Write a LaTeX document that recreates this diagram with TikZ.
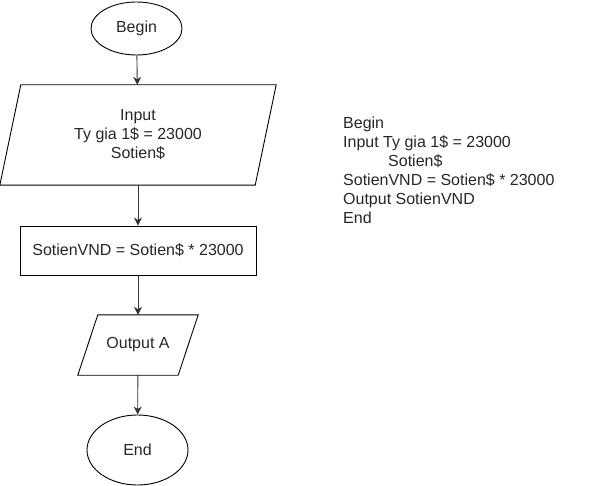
\documentclass[tikz,border=0pt]{standalone}
\usepackage{fontspec}
\setmainfont{Liberation Sans}
\usetikzlibrary{shapes.geometric,arrows.meta}
\begin{document}
\begin{tikzpicture}[x=1pt,y=-1pt,
  every node/.style={font=\fontsize{16}{19}\selectfont, text=black!85},
  term/.style={ellipse, draw, line width=0.9pt, inner sep=0pt},
  proc/.style={rectangle, draw, line width=0.9pt, inner sep=0pt},
  iobox/.style={rectangle, inner sep=0pt, align=center},
  para/.style={line width=0.9pt},
  flow/.style={draw=black!80, line width=0.9pt, -{Stealth[length=8pt,width=8pt,inset=2.5pt]}}
]
\useasboundingbox (0,0) rectangle (612,486);
\node[term, minimum width=91pt, minimum height=53pt] (begin) at (136.5,28.5) {Begin};
\node[iobox, minimum width=255pt, minimum height=100pt] (input) at (138,135) {Input\\Ty gia 1\$ = 23000\\Sotien\$};
\draw[para] ([xshift=10.5pt]input.north west) -- ([xshift=10.5pt]input.north east)
  -- ([xshift=-10.5pt]input.south east) -- ([xshift=-10.5pt]input.south west) -- cycle;
\node[proc, minimum width=236pt, minimum height=49pt] (calc) at (138,250.5) {SotienVND = Sotien\$ * 23000};
\node[iobox, minimum width=100pt, minimum height=60pt] (output) at (138,345) {Output A};
\draw[para] ([xshift=10pt]output.north west) -- ([xshift=10pt]output.north east)
  -- ([xshift=-10pt]output.south east) -- ([xshift=-10pt]output.south west) -- cycle;
\node[term, minimum width=101pt, minimum height=70pt] (end) at (137.5,450) {End};
\draw[flow] (begin) -- (input);
\draw[flow] (input) -- (calc);
\draw[flow] (calc) -- (output);
\draw[flow] (output) -- (end);
\node[anchor=north west, inner sep=0pt, align=left] (code) at (343,117)
  {Begin\\Input Ty gia 1\$ = 23000\\\hspace*{45pt}Sotien\$\\SotienVND = Sotien\$ * 23000\\Output SotienVND\\End};
\end{tikzpicture}
\end{document}
